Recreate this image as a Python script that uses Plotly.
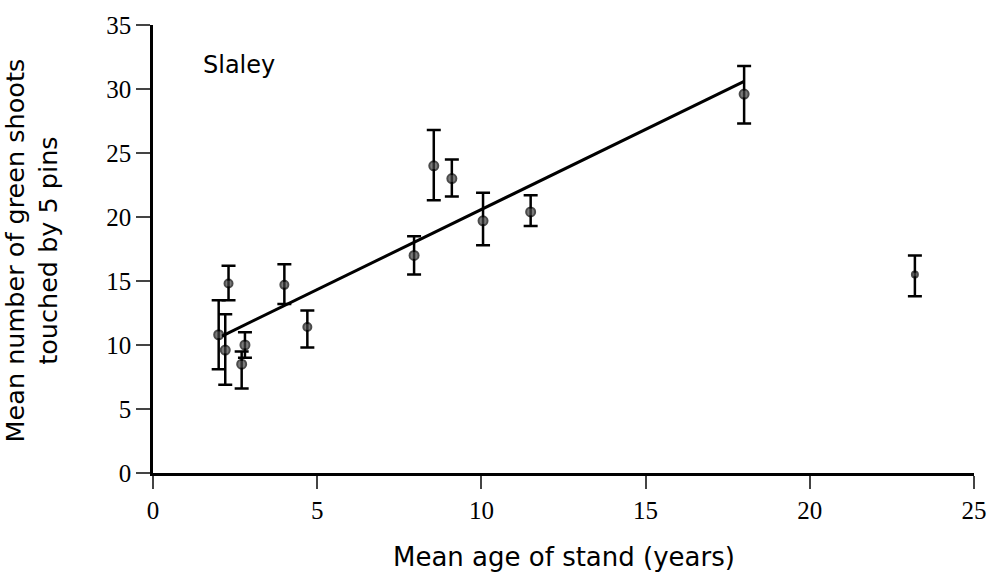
import plotly.graph_objects as go

# Data
age = [2.0, 2.2, 2.3, 2.8, 2.7, 4.0, 4.7, 7.95, 8.55, 9.1, 10.05, 11.5, 18.0, 23.2]
shoots = [10.8, 9.6, 14.8, 10.0, 8.5, 14.7, 11.4, 17.0, 24.0, 23.0, 19.7, 20.4, 29.6, 15.5]
upper = [13.5, 12.4, 16.2, 11.0, 9.5, 16.3, 12.7, 18.5, 26.8, 24.5, 21.9, 21.7, 31.8, 17.0]
lower = [8.1, 6.9, 13.5, 9.0, 6.6, 13.2, 9.8, 15.5, 21.3, 21.6, 17.8, 19.3, 27.3, 13.8]
marker_sizes = [9, 9, 8, 9, 9, 8, 8, 9, 9, 9, 9, 9, 9, 6]

fit_x = [2.1, 18.0]
fit_y = [10.7, 30.6]

x_ticks = [0, 5, 10, 15, 20, 25]
y_ticks = [0, 5, 10, 15, 20, 25, 30, 35]

err_plus = [u - s for u, s in zip(upper, shoots)]
err_minus = [s - l for s, l in zip(shoots, lower)]

fig = go.Figure()
fig.add_trace(go.Scatter(
    x=fit_x, y=fit_y, mode="lines",
    line=dict(color="black", width=3),
    showlegend=False, hoverinfo="skip",
))
fig.add_trace(go.Scatter(
    x=age, y=shoots, mode="markers",
    marker=dict(symbol="circle", size=marker_sizes, color="#444",
                line=dict(color="black", width=2)),
    error_y=dict(type="data", symmetric=False, array=err_plus,
                 arrayminus=err_minus, color="black", thickness=2.5, width=7),
    showlegend=False,
))

serif = "Liberation Serif, Times New Roman, serif"
sans = "DejaVu Sans, sans-serif"

fig.update_layout(
    width=999, height=573,
    margin=dict(l=153, r=17, t=19, b=100),
    paper_bgcolor="white", plot_bgcolor="white",
    xaxis=dict(range=[0, 25], tickvals=x_ticks, ticks="outside", ticklen=13,
               tickwidth=2, showline=True, linewidth=2.5, linecolor="black",
               showgrid=False, zeroline=False, ticklabeloverflow="allow",
               tickfont=dict(family=serif, size=25, color="black")),
    yaxis=dict(range=[0, 35], tickvals=y_ticks, ticks="outside", ticklen=14,
               tickwidth=2, showline=True, linewidth=2.5, linecolor="black",
               showgrid=False, zeroline=False, ticklabeloverflow="allow",
               tickfont=dict(family=serif, size=25, color="black")),
    annotations=[
        dict(text="Mean number of green shoots<br>touched by 5 pins",
             xref="paper", yref="paper", x=-0.148, y=0.498, textangle=-90,
             showarrow=False, xanchor="center", yanchor="middle",
             font=dict(family=sans, size=25.5, color="black")),
        dict(text="Mean age of stand (years)",
             xref="paper", yref="paper", x=0.5, y=-0.187,
             showarrow=False, xanchor="center", yanchor="middle",
             font=dict(family=sans, size=26, color="black")),
        dict(text="Slaley", xref="x", yref="y", x=1.45, y=31.9,
             showarrow=False, xanchor="left", yanchor="middle",
             font=dict(family=sans, size=24, color="black")),
    ],
)

fig.write_html("out.html", config={"displayModeBar": False},
               post_script="document.body.style.margin='0';document.body.style.overflow='hidden';")
